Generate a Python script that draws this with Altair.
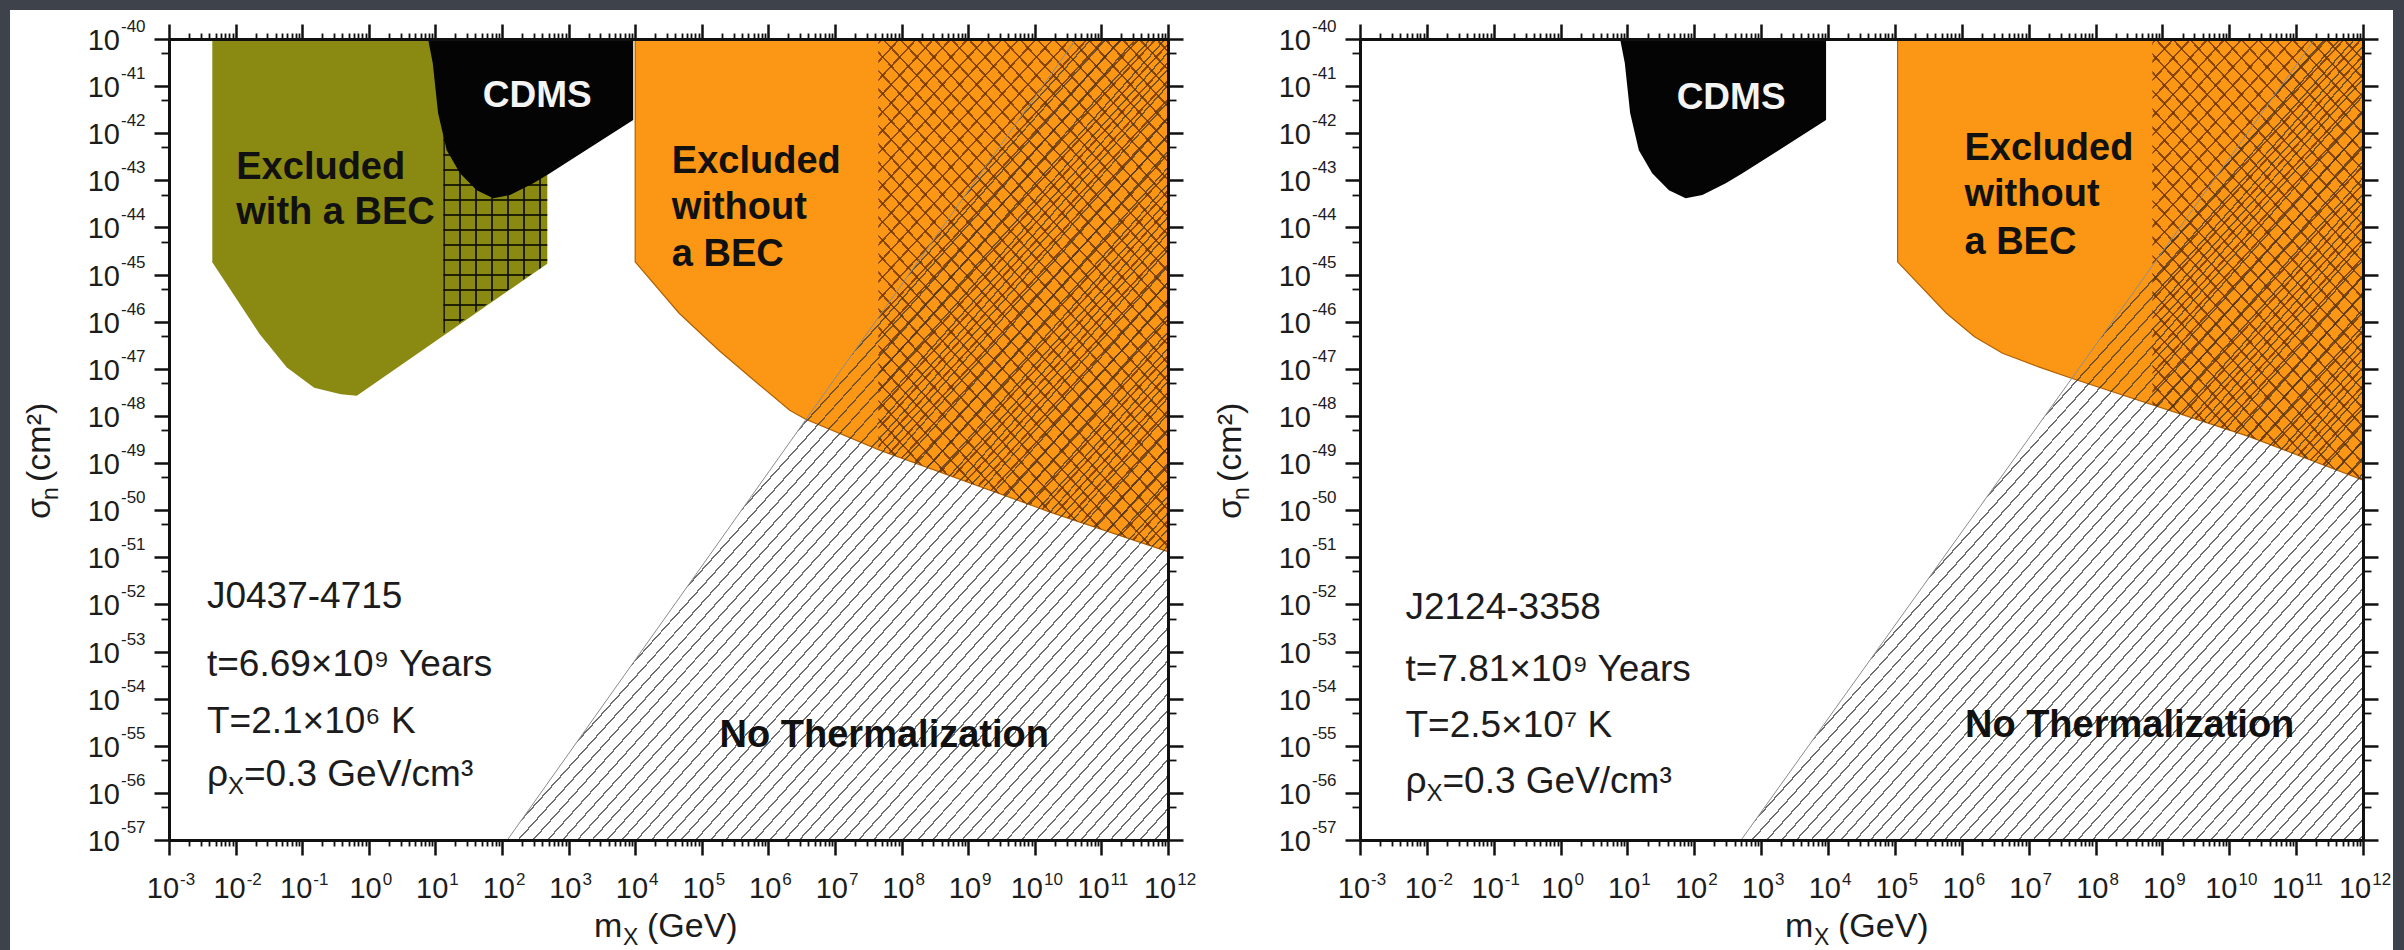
import math
import altair as alt
import pandas as pd

# ---------------- layout (pixels) ----------------
W_LEFT, W_RIGHT, H = 999, 1003, 801
GAP = 192

X_DOMAIN = [-3, 12]     # log10(m_X / GeV)
Y_DOMAIN = [-57, -40]   # log10(sigma_n / cm^2)

# ---------------- tick labels ("10" with a raised exponent) ----------------
X_TICKS = list(range(-3, 13))
X_TICK_EXP = ["-3", "-2", "-1", "0", "1", "2", "3", "4", "5", "6", "7", "8", "9", "10", "11", "12"]
Y_TICKS = list(range(-57, -39))
Y_TICK_EXP = ["-57", "-56", "-55", "-54", "-53", "-52", "-51", "-50", "-49", "-48", "-47", "-46",
              "-45", "-44", "-43", "-42", "-41", "-40"]

# ---------------- regions (log10 units) ----------------
# CDMS exclusion (same in both panels)
CDMS_X = [0.89, 0.96, 1.04, 1.17, 1.37, 1.62, 1.87, 2.12, 2.47, 2.72, 3.97]
CDMS_LO = [-40.0, -40.51, -41.57, -42.36, -42.85, -43.21, -43.38, -43.31, -43.06, -42.85, -41.72]

# Left panel: J0437-4715
BEC_X = [-2.35, -1.64, -1.23, -0.82, -0.42, -0.18, 2.68]
BEC_LO = [-44.74, -46.26, -46.97, -47.40, -47.54, -47.57, -44.77]
GRID_X = [1.12, 2.68]
GRID_LO = [-46.25, -44.77]
ORG_L_X = [4.0, 4.66, 5.25, 5.84, 6.32, 6.56, 7.68, 10.23, 12.0]
ORG_L_LO = [-44.73, -45.82, -46.60, -47.31, -47.88, -48.07, -48.73, -50.04, -50.88]
XH_L_X = [7.65, 10.23, 12.0]
XH_L_LO = [-48.71, -50.04, -50.88]
NT_L_X = [2.08, 10.62, 12.0]
NT_L_HI = [-57.0, -40.0, -40.0]

# Right panel: J2124-3358
ORG_R_X = [5.04, 5.77, 6.19, 6.61, 7.15, 7.64, 10.30, 12.0]
ORG_R_LO = [-44.73, -45.82, -46.32, -46.67, -46.96, -47.20, -48.44, -49.36]
XH_R_X = [8.85, 10.30, 12.0]
XH_R_LO = [-47.76, -48.44, -49.36]
NT_R_X = [2.70, 11.28, 12.0]
NT_R_HI = [-57.0, -40.0, -40.0]

# ---------------- labels ----------------
BOLD_L = {"text": ["Excluded", "with a BEC", "Excluded", "without", "a BEC", "No Thermalization"],
          "x": [-1.99, -1.99, 4.55, 4.55, 4.55, 7.74],
          "y": [-42.74, -43.69, -42.61, -43.59, -44.59, -54.79],
          "align": ["left", "left", "left", "left", "left", "center"]}
BOLD_R = {"text": ["Excluded", "without", "a BEC", "No Thermalization"],
          "x": [6.04, 6.04, 6.04, 8.51],
          "y": [-42.34, -43.31, -44.33, -54.58],
          "align": ["left", "left", "left", "center"]}
CDMS_LABEL_L = (2.53, -41.21)
CDMS_LABEL_R = (2.55, -41.25)
INFO_L = {"text": ["J0437-4715", "t=6.69×10⁹ Years", "T=2.1×10⁶ K"],
          "x": [-2.43, -2.43, -2.43], "y": [-51.85, -53.29, -54.49]}
INFO_R = {"text": ["J2124-3358", "t=7.81×10⁹ Years", "T=2.5×10⁷ K"],
          "x": [-2.32, -2.32, -2.32], "y": [-52.08, -53.40, -54.58]}
RHO_L = (-2.43, -55.61)
RHO_R = (-2.32, -55.77)

# ---------------- colours / fonts ----------------
OLIVE = "#8a8a12"
ORANGE = "#fb9714"
CDMS_C = "#040404"
BG_DARK = "#3e434b"
FONT = "Liberation Sans"
INK = "#1c1c1c"

XS = alt.Scale(domain=X_DOMAIN, nice=False, zero=False)
YS = alt.Scale(domain=Y_DOMAIN, nice=False, zero=False)

# approximate Liberation Sans advance widths (em)
CHAR_W = {"-": 0.333}


def text_w(s, size):
    return sum(CHAR_W.get(c, 0.556) for c in s) * size


def region(xs, lo, hi):
    n = len(xs)
    lo = lo if isinstance(lo, list) else [lo] * n
    hi = hi if isinstance(hi, list) else [hi] * n
    return pd.DataFrame({"x": xs, "lo": lo, "hi": hi})


def bbox_px(df, W):
    w = (df.x.max() - df.x.min()) / (X_DOMAIN[1] - X_DOMAIN[0]) * W
    ymax = max(df.hi.max(), df.lo.max())
    ymin = min(df.hi.min(), df.lo.min())
    h = (ymax - ymin) / (Y_DOMAIN[1] - Y_DOMAIN[0]) * H
    return w, h


def stripes(w, h, angle, period, lw, color, mirror=False, phase=0.0):
    """Hatch pattern as a hard-stop linear gradient (objectBoundingBox units)."""
    a = math.sin(math.radians(angle))
    b = math.cos(math.radians(angle))
    if abs(a) < 1e-9:
        a = 0.0
    if abs(b) < 1e-9:
        b = 0.0
    smax = a * w + b * h
    k = smax / (a * a * w * w + b * b * h * h)
    clear = "rgba(255,255,255,0)"
    stops = [alt.GradientStop(color=clear, offset=0)]
    s = phase
    last = 0.0
    while s - lw / 2 < smax:
        o1 = max(last, (s - lw / 2) / smax)
        o2 = min(1.0, max(o1, (s + lw / 2) / smax))
        stops += [alt.GradientStop(color=clear, offset=round(o1, 5)),
                  alt.GradientStop(color=color, offset=round(o1, 5)),
                  alt.GradientStop(color=color, offset=round(o2, 5)),
                  alt.GradientStop(color=clear, offset=round(o2, 5))]
        last = o2
        s += period
    stops.append(alt.GradientStop(color=clear, offset=1))
    if mirror:
        x1, y1, x2, y2 = 0, 1, k * a * w, 1 - k * b * h
    else:
        x1, y1, x2, y2 = 0, 0, k * a * w, k * b * h
    return alt.LinearGradient(gradient="linear", stops=stops,
                              x1=round(x1, 6), y1=round(y1, 6), x2=round(x2, 6), y2=round(y2, 6))


def area(df, fill, **kw):
    return alt.Chart(df).mark_area(color=fill, opacity=1, **kw).encode(
        x=alt.X("x:Q", scale=XS, axis=None),
        y=alt.Y("lo:Q", scale=YS, axis=None),
        y2="hi:Q",
    )


def major_axis(orient, values):
    return alt.Axis(orient=orient, values=values, tickSize=15, tickWidth=2.5, tickColor="#111",
                    domain=True, domainColor="#111", domainWidth=3, grid=False, title=None,
                    labels=False, zindex=3)


def minor_axis(orient, values, size=6):
    return alt.Axis(orient=orient, values=values, tickSize=size, tickWidth=1.8, tickColor="#111",
                    domain=False, grid=False, labels=False, title=None, zindex=3)


X_MINOR = [round(n + math.log10(k), 4) for n in range(X_DOMAIN[0], X_DOMAIN[1]) for k in range(2, 10)]
Y_MINOR = [round(n + math.log10(5), 4) for n in range(Y_DOMAIN[0], Y_DOMAIN[1])]

carrier_df = pd.DataFrame({"x": X_DOMAIN, "y": Y_DOMAIN})
one = carrier_df.head(1)


def carriers():
    out = []
    specs = [
        (major_axis("bottom", X_TICKS), major_axis("left", Y_TICKS)),
        (major_axis("top", X_TICKS), major_axis("right", Y_TICKS)),
        (minor_axis("bottom", X_MINOR), minor_axis("left", Y_MINOR, 8)),
        (minor_axis("top", X_MINOR), minor_axis("right", Y_MINOR, 8)),
    ]
    for ax, ay in specs:
        out.append(alt.Chart(carrier_df).mark_point(opacity=0).encode(
            x=alt.X("x:Q", scale=XS, axis=ax),
            y=alt.Y("y:Q", scale=YS, axis=ay)))
    return out


def tick_labels(W):
    ppu = W / (X_DOMAIN[1] - X_DOMAIN[0])
    base_fs, exp_fs = 29, 17
    w10 = text_w("10", base_fs)
    bx, ex = [], []
    for t, e in zip(X_TICKS, X_TICK_EXP):
        total = w10 + 1 + text_w(e, exp_fs)
        right10 = 2 - total / 2 + w10
        bx.append(t + right10 / ppu)
        ex.append(t + (right10 + 1) / ppu)
    xb = pd.DataFrame({"x": bx, "t": ["10"] * len(bx)})
    xe = pd.DataFrame({"x": ex, "t": X_TICK_EXP})
    yb = pd.DataFrame({"y": Y_TICKS, "t": ["10"] * len(Y_TICKS)})
    ye = pd.DataFrame({"y": Y_TICKS, "t": Y_TICK_EXP})
    xenc = alt.X("x:Q", scale=XS, axis=None)
    yenc = alt.Y("y:Q", scale=YS, axis=None)
    return [
        alt.Chart(xb).mark_text(font=FONT, fontSize=base_fs, color=INK, align="right",
                                baseline="alphabetic").encode(x=xenc, y=alt.value(H + 58), text="t:N"),
        alt.Chart(xe).mark_text(font=FONT, fontSize=exp_fs, color=INK, align="left",
                                baseline="alphabetic").encode(x=xenc, y=alt.value(H + 45), text="t:N"),
        alt.Chart(yb).mark_text(font=FONT, fontSize=base_fs, color=INK, align="right",
                                baseline="alphabetic", dy=11).encode(x=alt.value(-49), y=yenc, text="t:N"),
        alt.Chart(ye).mark_text(font=FONT, fontSize=exp_fs, color=INK, align="left",
                                baseline="alphabetic", dy=-7).encode(x=alt.value(-48), y=yenc, text="t:N"),
    ]


def text_layer(d, size, weight="normal", color=INK, align=None):
    df = pd.DataFrame(d)
    layers = []
    aligns = df["align"].unique() if "align" in df else [align or "left"]
    for al in aligns:
        sub = df[df["align"] == al] if "align" in df else df
        layers.append(alt.Chart(sub).mark_text(font=FONT, fontSize=size, fontWeight=weight,
                                               color=color, align=al, baseline="middle").encode(
            x=alt.X("x:Q", scale=XS, axis=None),
            y=alt.Y("y:Q", scale=YS, axis=None),
            text="text:N"))
    return layers


def rho_layers(pos):
    df = pd.DataFrame({"x": [pos[0]], "y": [pos[1]]})
    base = dict(x=alt.X("x:Q", scale=XS, axis=None), y=alt.Y("y:Q", scale=YS, axis=None))
    return [
        alt.Chart(df).mark_text(text="ρ", font=FONT, fontSize=37, color=INK,
                                align="left", baseline="middle").encode(**base),
        alt.Chart(df).mark_text(text="X", font=FONT, fontSize=24, color=INK,
                                align="left", baseline="middle", dx=21, dy=12).encode(**base),
        alt.Chart(df).mark_text(text="=0.3 GeV/cm³", font=FONT, fontSize=37, color=INK,
                                align="left", baseline="middle", dx=37).encode(**base),
    ]


def axis_titles():
    t = []
    specs = [
        ("m", 34, 425, 898, 0), ("X", 23, 454, 906, 0), ("(GeV)", 34, 478, 898, 0),
        ("σ", 34, -119, 480, 270), ("n", 23, -111, 461, 270), ("(cm²)", 34, -119, 443, 270),
    ]
    for txt, fs, x, y, ang in specs:
        t.append(alt.Chart(one).mark_text(text=txt, font=FONT, fontSize=fs, color=INK, align="left",
                                          baseline="alphabetic", angle=ang).encode(
            x=alt.value(x), y=alt.value(y)))
    return t


def panel(W, org_x, org_lo, xh_x, xh_lo, nt_x, nt_hi, bold, cdms_pos, info, rho_pos, left=False):
    layers = []
    if left:
        layers.append(alt.Chart(one).mark_rect(color="white").encode(
            x=alt.value(-159), x2=alt.value(2224), y=alt.value(-29), y2=alt.value(911)))
        bec = region(BEC_X, BEC_LO, -40.0)
        layers.append(area(bec, OLIVE))
        g = region(GRID_X, GRID_LO, -40.0)
        gw, gh = bbox_px(g, W)
        layers.append(area(g, stripes(gw, gh, 90, 16, 1.6, "rgba(15,15,0,0.85)", phase=0.8)))
        layers.append(area(g, stripes(gw, gh, 0, 15, 1.6, "rgba(15,15,0,0.85)", phase=11)))
    org = region(org_x, org_lo, -40.0)
    layers.append(area(org, ORANGE, stroke="#b06000", strokeWidth=1.2))
    xh = region(xh_x, xh_lo, -40.0)
    xw, xhh = bbox_px(xh, W)
    layers.append(area(xh, stripes(xw, xhh, 47, 12.5, 1.7, "rgba(110,50,0,0.78)", phase=3)))
    layers.append(area(xh, stripes(xw, xhh, 47, 12.5, 1.7, "rgba(110,50,0,0.78)", mirror=True, phase=3)))
    nt = region(nt_x, -57.0, nt_hi)
    nw, nh = bbox_px(nt, W)
    layers.append(area(nt, stripes(nw, nh, 48, 11, 1.4, "rgba(55,55,55,0.72)", phase=5)))
    edge = pd.DataFrame({"x": nt_x[:2], "y": nt_hi[:2]})
    layers.append(alt.Chart(edge).mark_line(color="#8c8c8c", strokeWidth=1).encode(
        x=alt.X("x:Q", scale=XS, axis=None), y=alt.Y("y:Q", scale=YS, axis=None)))
    cd = region(CDMS_X, CDMS_LO, -40.0)
    layers.append(area(cd, CDMS_C))
    # labels
    layers += text_layer(bold, 38, weight="bold", color="#111")
    layers += text_layer({"text": ["CDMS"], "x": [cdms_pos[0]], "y": [cdms_pos[1]], "align": ["center"]},
                         37, weight="bold", color="#f4f4f4")
    layers += text_layer(info, 37, color=INK, align="left")
    layers += rho_layers(rho_pos)
    layers += tick_labels(W)
    layers += axis_titles()
    layers += carriers()
    return alt.layer(*layers).properties(width=W, height=H)


left = panel(W_LEFT, ORG_L_X, ORG_L_LO, XH_L_X, XH_L_LO, NT_L_X, NT_L_HI,
             BOLD_L, CDMS_LABEL_L, INFO_L, RHO_L, left=True)
right = panel(W_RIGHT, ORG_R_X, ORG_R_LO, XH_R_X, XH_R_LO, NT_R_X, NT_R_HI,
              BOLD_R, CDMS_LABEL_R, INFO_R, RHO_R)

chart = alt.hconcat(left, right, spacing=GAP, bounds="flush").properties(
    padding={"left": 10, "top": 10, "right": 11, "bottom": 0}
).configure(background=BG_DARK, font=FONT).configure_view(stroke=None)

chart.save("out.html", embed_options={"renderer": "svg", "actions": False})
